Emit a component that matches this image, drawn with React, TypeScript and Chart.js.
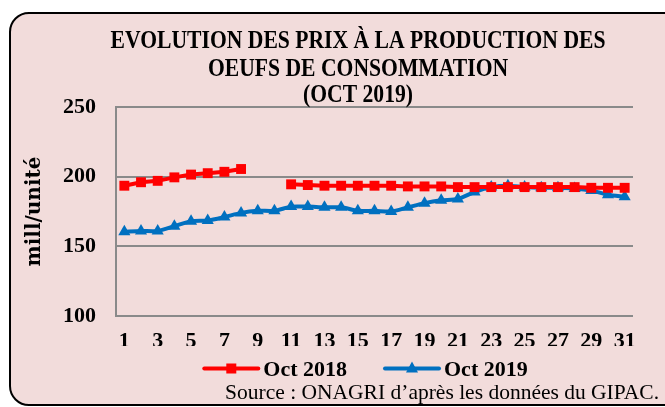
import { useEffect, useRef } from "react";
import { Chart, registerables } from "chart.js";

Chart.register(...registerables);

const days = ["1","2","3","4","5","6","7","8","9","10","11","12","13","14","15","16","17","18","19","20","21","22","23","24","25","26","27","28","29","30","31"];

const oct2018: (number | null)[] = [193.5, 196, 197, 199.5, 201.5, 202.5, 203.5, 205.5, null, null, 194.5, 194, 193.5, 193.5, 193.5, 193.5, 193.5, 193, 193, 193, 192.5, 192.5, 192.5, 192.5, 192.5, 192.5, 192.5, 192.5, 192, 192, 192];

const oct2019: number[] = [160.5, 161, 161, 164.5, 168, 168.5, 171, 174, 175.5, 175.5, 178.5, 178.5, 178, 178, 175.5, 175.5, 175, 178, 181, 183, 184, 189, 192.5, 193.5, 192.5, 192, 192, 191.5, 190, 187, 185.5];

const seriesNames = ["Oct 2018", "Oct 2019"];
const titleLines = ["EVOLUTION DES PRIX À LA PRODUCTION DES", "OEUFS DE CONSOMMATION", "(OCT 2019)"];
const yAxisTitle = "mill/unité";
const sourceText = "Source : ONAGRI d’après les données du GIPAC.";
const yMin = 100;
const yMax = 250;
const yStep = 50;

const RED = "#FF0000";
const BLUE = "#0070C0";
const GRID = "#8A8A8A";
const FONT = "'Liberation Serif', 'Times New Roman', serif";

const overlayPlugin = {
  id: "overlayTexts",
  afterDraw(chart: any) {
    const ctx = chart.ctx as CanvasRenderingContext2D;
    const ca = chart.chartArea;
    ctx.save();

    // Title (condensed serif look)
    ctx.font = `bold 26px ${FONT}`;
    ctx.fillStyle = "#000";
    ctx.textAlign = "center";
    ctx.textBaseline = "alphabetic";
    const w0 = ctx.measureText(titleLines[0]).width;
    const sx = 495 / w0;
    const titleCx = 358;
    const baselines = [48, 75.5, 102];
    titleLines.forEach((line, i) => {
      ctx.save();
      ctx.translate(titleCx, baselines[i]);
      ctx.scale(sx, 1);
      ctx.fillText(line, 0, 0);
      ctx.restore();
    });

    // Legend
    ctx.font = `bold 22px ${FONT}`;
    const items = chart.data.datasets.map((ds: any) => ({
      label: ds.label as string,
      color: ds.borderColor as string,
      style: ds.pointStyle as string,
      w: ctx.measureText(ds.label).width,
    }));
    const lineLen = 54;
    const gap = 5;
    const itemGap = 38;
    const total =
      items.reduce((s: number, it: any) => s + lineLen + gap + it.w, 0) +
      itemGap * (items.length - 1);
    let x = (ca.left + ca.right) / 2 - 8.5 - total / 2;
    const y = 368.5;
    for (const it of items) {
      ctx.strokeStyle = it.color;
      ctx.lineWidth = 4;
      ctx.lineCap = "round";
      ctx.beginPath();
      ctx.moveTo(x, y);
      ctx.lineTo(x + lineLen, y);
      ctx.stroke();
      ctx.fillStyle = it.color;
      const cx = x + lineLen / 2;
      if (it.style === "rect") {
        ctx.fillRect(cx - 5, y - 5, 10, 10);
      } else {
        ctx.beginPath();
        ctx.moveTo(cx, y - 7);
        ctx.lineTo(cx + 6, y + 4);
        ctx.lineTo(cx - 6, y + 4);
        ctx.closePath();
        ctx.fill();
      }
      ctx.fillStyle = "#000";
      ctx.textAlign = "left";
      ctx.textBaseline = "alphabetic";
      ctx.fillText(it.label, x + lineLen + gap, 376);
      x += lineLen + gap + it.w + itemGap;
    }

    // Source
    ctx.font = `21.5px ${FONT}`;
    ctx.textAlign = "right";
    ctx.textBaseline = "alphabetic";
    ctx.fillStyle = "#000";
    ctx.fillText(sourceText, 659, 399);
    ctx.restore();
  },
};

export default function App() {
  const canvasRef = useRef<HTMLCanvasElement | null>(null);

  useEffect(() => {
    if (!canvasRef.current) return;
    const chart = new Chart(canvasRef.current, {
      type: "line",
      data: {
        labels: days,
        datasets: [
          {
            label: seriesNames[0],
            data: oct2018,
            borderColor: RED,
            backgroundColor: RED,
            borderWidth: 4,
            pointStyle: "rect",
            pointRadius: 7,
            pointBorderWidth: 0,
            pointBackgroundColor: RED,
            spanGaps: false,
            tension: 0,
          },
          {
            label: seriesNames[1],
            data: oct2019,
            borderColor: BLUE,
            backgroundColor: BLUE,
            borderWidth: 4,
            pointStyle: "triangle",
            pointRadius: 7,
            pointBorderWidth: 0,
            pointBackgroundColor: BLUE,
            tension: 0.25,
          },
        ],
      },
      options: {
        responsive: false,
        animation: false,
        layout: { padding: { left: 10, right: 32, top: 107, bottom: 61 } },
        plugins: {
          legend: { display: false },
          tooltip: { enabled: false },
          title: { display: false },
        },
        scales: {
          x: {
            type: "category",
            offset: true,
            grid: { display: false, drawTicks: false },
            border: { display: false },
            ticks: {
              autoSkip: false,
              maxRotation: 0,
              padding: 12,
              color: "#000",
              font: { family: FONT, size: 22, weight: "bold" },
              callback: (_v: any, i: number) => (i % 2 === 0 ? days[i] : ""),
            },
            afterFit: (s: any) => {
              s.height = 30;
            },
          },
          y: {
            min: yMin,
            max: yMax,
            grid: { color: GRID, lineWidth: 2, drawTicks: false },
            border: { display: true, color: GRID, width: 2 },
            ticks: {
              stepSize: yStep,
              padding: 20,
              color: "#000",
              font: { family: FONT, size: 22, weight: "bold" },
            },
            title: {
              display: true,
              text: yAxisTitle,
              color: "#000",
              font: { family: "'DejaVu Serif', serif", size: 20, weight: "bold" },
              padding: { top: 12.5, bottom: 0 },
            },
            afterFit: (s: any) => {
              s.width = 106;
            },
          },
        },
      },
      plugins: [overlayPlugin],
    });
    return () => chart.destroy();
  }, []);

  return (
    <div
      style={{
        position: "absolute",
        left: 0,
        top: 0,
        width: 665,
        height: 407,
        overflow: "hidden",
        background: "#FFFFFF",
      }}
    >
      <div
        style={{
          position: "absolute",
          left: 9,
          top: 12,
          width: 680,
          height: 394,
          boxSizing: "border-box",
          border: "2px solid #000",
          borderRadius: 20,
          background: "#F2DCDB",
        }}
      />
      <canvas
        ref={canvasRef}
        width={665}
        height={407}
        style={{ position: "absolute", left: 0, top: 0, width: 665, height: 407 }}
      />
    </div>
  );
}
